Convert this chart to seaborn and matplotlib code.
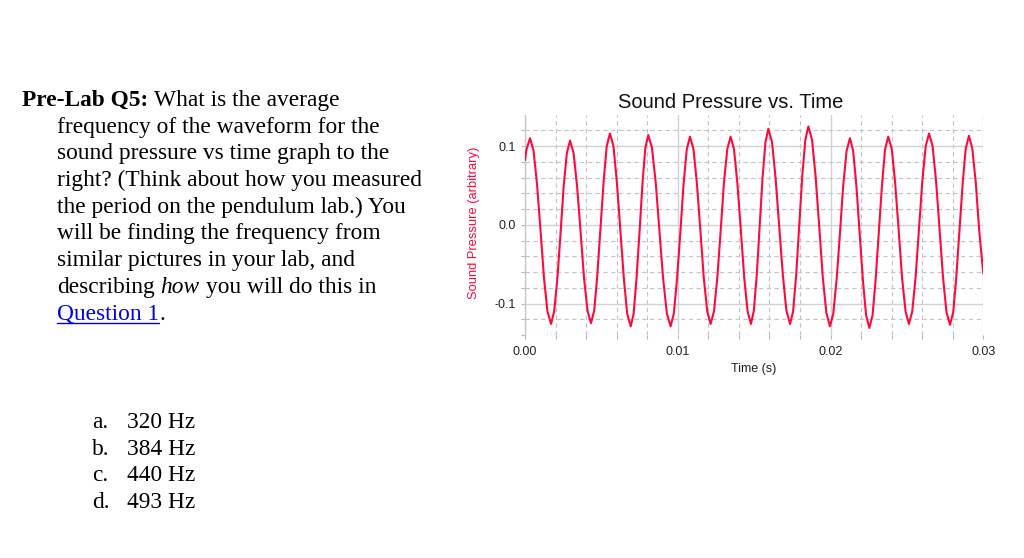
import matplotlib
matplotlib.use("Agg")
import matplotlib.pyplot as plt
from matplotlib.ticker import MultipleLocator, FormatStrFormatter
from matplotlib.lines import Line2D
import pandas as pd
import seaborn as sns

# Waveform: time in ms, pressure in arbitrary units
time_ms = [
    0.00, 0.10, 0.33,
    0.56, 0.79, 1.02, 1.24, 1.47, 1.70,
    1.91, 2.12, 2.33, 2.53, 2.74, 2.95,
    3.18, 3.41, 3.64, 3.86, 4.09, 4.32,
    4.53, 4.73, 4.94, 5.15, 5.35, 5.56,
    5.79, 6.01, 6.24, 6.47, 6.69, 6.92,
    7.11, 7.30, 7.50, 7.69, 7.88, 8.07,
    8.31, 8.56, 8.80, 9.04, 9.29, 9.53,
    9.74, 9.95, 10.17, 10.38, 10.59, 10.80,
    11.03, 11.25, 11.48, 11.70, 11.93, 12.15,
    12.37, 12.59, 12.81, 13.02, 13.24, 13.46,
    13.68, 13.90, 14.13, 14.35, 14.57, 14.79,
    14.98, 15.17, 15.36, 15.55, 15.74, 15.93,
    16.17, 16.40, 16.64, 16.88, 17.11, 17.35,
    17.55, 17.75, 17.95, 18.15, 18.35, 18.55,
    18.79, 19.02, 19.26, 19.49, 19.73, 19.96,
    20.18, 20.40, 20.62, 20.83, 21.05, 21.27,
    21.48, 21.69, 21.91, 22.12, 22.33, 22.54,
    22.75, 22.95, 23.16, 23.37, 23.57, 23.78,
    24.01, 24.23, 24.46, 24.68, 24.91, 25.13,
    25.35, 25.57, 25.79, 26.01, 26.23, 26.45,
    26.68, 26.91, 27.14, 27.36, 27.59, 27.82,
    28.03, 28.23, 28.44, 28.65, 28.85, 29.06,
    29.28, 29.51, 29.73, 30.00,
]
pressure = [
    0.082, 0.096, 0.110,
    0.094, 0.051, -0.008, -0.067, -0.110, -0.126,
    -0.110, -0.068, -0.010, 0.049, 0.091, 0.107,
    0.091, 0.049, -0.009, -0.067, -0.109, -0.125,
    -0.109, -0.065, -0.005, 0.056, 0.100, 0.116,
    0.100, 0.055, -0.007, -0.068, -0.113, -0.129,
    -0.113, -0.068, -0.008, 0.053, 0.098, 0.114,
    0.098, 0.053, -0.008, -0.068, -0.113, -0.129,
    -0.113, -0.069, -0.009, 0.052, 0.096, 0.112,
    0.096, 0.053, -0.007, -0.067, -0.110, -0.126,
    -0.110, -0.067, -0.007, 0.053, 0.096, 0.112,
    0.096, 0.053, -0.007, -0.067, -0.110, -0.126,
    -0.109, -0.064, -0.002, 0.060, 0.105, 0.122,
    0.105, 0.060, -0.002, -0.064, -0.109, -0.126,
    -0.110, -0.064, -0.001, 0.062, 0.108, 0.125,
    0.108, 0.062, -0.002, -0.066, -0.112, -0.129,
    -0.113, -0.069, -0.010, 0.050, 0.094, 0.110,
    0.094, 0.050, -0.011, -0.071, -0.115, -0.131,
    -0.115, -0.070, -0.010, 0.051, 0.096, 0.112,
    0.096, 0.053, -0.007, -0.067, -0.110, -0.126,
    -0.110, -0.066, -0.005, 0.056, 0.100, 0.116,
    0.100, 0.055, -0.006, -0.066, -0.111, -0.127,
    -0.111, -0.067, -0.007, 0.053, 0.097, 0.113,
    0.097, 0.053, -0.007, -0.062,
]

x_ticks = [0.00, 0.01, 0.02, 0.03]
y_ticks = [-0.1, 0.0, 0.1]

question_lines = [
    "frequency of the waveform for the",
    "sound pressure vs time graph to the",
    "right? (Think about how you measured",
    "the period on the pendulum lab.) You",
    "will be finding the frequency from",
    "similar pictures in your lab, and",
]
option_letters = ["a.", "b.", "c.", "d."]
option_values = ["320 Hz", "384 Hz", "440 Hz", "493 Hz"]

LINE_RED = "#ff0a3c"
W, H = 1024, 558

sns.set_theme(style="white")
plt.rcParams["font.family"] = ["Liberation Sans", "DejaVu Sans"]
plt.rcParams["axes.unicode_minus"] = False

df = pd.DataFrame({"time": [t / 1000 for t in time_ms], "pressure": pressure})

fig = plt.figure(figsize=(W / 100, H / 100), dpi=100)
ax = fig.add_axes([525 / W, 1 - 335 / H, 458.3 / W, 220 / H])

sns.lineplot(data=df, x="time", y="pressure", ax=ax, color=LINE_RED,
             linewidth=1.5, estimator=None, sort=False, zorder=3)

ax.set_xlim(0, 0.03)
ax.set_ylim(-0.14, 0.1395)
ax.set_xticks(x_ticks)
ax.set_yticks(y_ticks)
ax.xaxis.set_major_formatter(FormatStrFormatter("%.2f"))
ax.yaxis.set_major_formatter(FormatStrFormatter("%.1f"))
ax.xaxis.set_minor_locator(MultipleLocator(0.002))
ax.yaxis.set_minor_locator(MultipleLocator(0.02))
ax.grid(which="major", color="#d2d2d2", linewidth=1.0, linestyle="-")
ax.grid(which="minor", color="#c4c4c4", linewidth=0.8, linestyle=(0, (4, 3)))
ax.set_axisbelow(True)
for side in ["top", "right", "bottom"]:
    ax.spines[side].set_visible(False)
ax.spines["left"].set_color("#c8c8c8")
ax.spines["left"].set_linewidth(1.0)
ax.tick_params(which="both", direction="out", length=3, width=0.8,
               color="#b8b8b8", left=True, bottom=True)
ax.tick_params(axis="x", which="major", pad=5)
ax.tick_params(which="major", labelsize=9, labelcolor="#222222")
ax.set_xlabel("")
ax.set_ylabel("")

def px(x, y):
    return x / W, 1 - y / H

fig.text(*px(731, 108.5), "Sound Pressure vs. Time", ha="center",
         va="baseline", fontsize=14.5, color="#111111")
fig.text(*px(754, 369), "Time (s)", ha="center", va="center", fontsize=9,
         color="#222222")
fig.text(*px(474, 223), "Sound Pressure (arbitrary)", ha="center",
         va="center", rotation=90, fontsize=9.3, color=LINE_RED)

# Question text on the left
SERIF = "Liberation Serif"
FS = 16.8
renderer = fig.canvas.get_renderer()
space_px = 0.25 * FS * 100 / 72

def put_runs(x, y, runs):
    for s, kw in runs:
        t = fig.text(*px(x, y), s, ha="left", va="baseline", fontsize=FS,
                     family=SERIF, color="black", **kw)
        bb = t.get_window_extent(renderer)
        x = bb.x1 + space_px
    return t

put_runs(22, 106, [("Pre-Lab Q5:", {"fontweight": "bold"}),
                   ("What is the average", {})])
base = 106
for i, line in enumerate(question_lines):
    put_runs(57, base + 26.7 * (i + 1), [(line, {})])
put_runs(57, base + 26.7 * 7, [("describing", {}), ("how", {"fontstyle": "italic"}),
                               ("you will do this in", {})])
y_last = base + 26.7 * 8
link = fig.text(*px(57, y_last), "Question 1", ha="left", va="baseline",
                fontsize=FS, family=SERIF, color="#0000ee")
bb = link.get_window_extent(renderer)
fig.text(bb.x1 / W, 1 - y_last / H, ".", ha="left", va="baseline",
         fontsize=FS, family=SERIF, color="black")
fig.add_artist(Line2D([bb.x0 / W, bb.x1 / W], [1 - (y_last + 3) / H] * 2,
                      color="#0000ee", linewidth=1.0))

for i, (letter, value) in enumerate(zip(option_letters, option_values)):
    y = 428 + 26.7 * i
    fig.text(*px(92, y), letter, ha="left", va="baseline", fontsize=FS,
             family=SERIF, color="black")
    fig.text(*px(127, y), value, ha="left", va="baseline", fontsize=FS,
             family=SERIF, color="black")

fig.savefig("out.png", dpi=100, facecolor="white")
